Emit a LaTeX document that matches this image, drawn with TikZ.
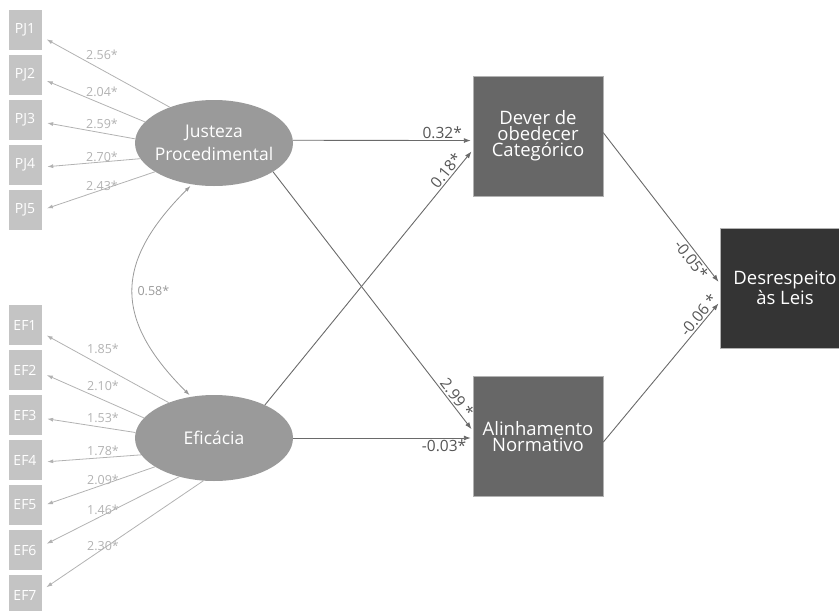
\documentclass[tikz,border=0pt]{standalone}
\usepackage{fontspec}
\setmainfont{Open Sans}
\usepackage{tikz}
\usetikzlibrary{arrows.meta, positioning, shapes.geometric}
\definecolor{indgray}{HTML}{C4C4C4}
\definecolor{latgray}{HTML}{9A9A9A}
\definecolor{midgray}{HTML}{676767}
\definecolor{darkbox}{HTML}{343434}
\definecolor{loadline}{HTML}{B2B2B2}
\definecolor{pathline}{HTML}{6A6A6A}
\tikzset{
    indicator/.style={
        rectangle,
        draw=white,
        fill=indgray,
        minimum width=34pt,
        minimum height=41pt,
        inner sep=0pt,
        text=white,
        font=\fontsize{14}{16}\selectfont
    },
    latent/.style={
        ellipse,
        fill=latgray,
        minimum width=158pt,
        minimum height=86pt,
        inner sep=-4pt,
        align=center,
        text=white,
        font=\fontsize{17.5}{23}\selectfont
    },
    construct/.style={
        rectangle,
        draw=gray!60,
        fill=midgray,
        minimum width=130pt,
        minimum height=120pt,
        inner sep=0pt,
        align=center,
        text=white,
        font=\fontsize{18.5}{16}\selectfont
    },
    outcome/.style={
        construct,
        fill=darkbox
    },
    load/.style={
        draw=loadline,
        line width=0.8pt,
        shorten >=5pt,
        -{Latex[length=6pt,width=4pt]}
    },
    path/.style={
        draw=pathline,
        line width=0.9pt,
        shorten >=2pt,
        -{Latex[length=7pt,width=5pt]}
    },
    corr/.style={
        draw=latgray,
        line width=0.8pt,
        shorten >=2pt,
        shorten <=2pt,
        {Latex[length=6pt,width=4pt]}-{Latex[length=6pt,width=4pt]}
    },
    loadlabel/.style={
        text=loadline,
        inner sep=0.5pt,
        font=\fontsize{12.5}{13}\selectfont
    },
    pathlabel/.style={
        text=pathline!80!black,
        inner sep=1.5pt,
        font=\fontsize{15.5}{16}\selectfont
    }
}

\begin{document}
\begin{tikzpicture}[x=1pt,y=1pt]
\useasboundingbox (0,0) rectangle (839,-611);

% latent variables and outcomes
\node[latent] (jp) at (214,-143) {Justeza\\Procedimental};
\node[latent] (ef) at (214,-438) {Eficácia};
\node[construct] (dever) at (538,-136) {Dever de\\obedecer\\Categórico};
\node[construct] (alin) at (538,-436.5) {Alinhamento\\Normativo};
\node[outcome] (desr) at (785,-288) {Desrespeito\\às Leis};

% PJ indicators
\foreach \i/\a/\b/\v/\ly in {1/141/-22/2.56/55, 2/163/-13/2.04/92, 3/177/-7/2.59/124, 4/192/-7/2.70/157, 5/206/0/2.43/186}{
    \node[indicator] (pj\i) at (25,{-30-45*(\i-1)}) {PJ\i};
    \draw[load] (jp.\a) -- (pj\i.\b);
    \node[loadlabel] (lpj\i) at (102,-\ly) {\v*};
}

% EF indicators
\foreach \i/\a/\b/\v/\ly in {1/142/-25/1.85/349, 2/164/-10/2.10/386, 3/176/-10/1.53/418, 4/193/-7/1.78/451, 5/206/-3/2.09/480, 6/228/13/1.46/510, 7/256/16/2.30/546}{
    \node[indicator] (ef\i) at (25,{-325-45*(\i-1)}) {EF\i};
    \draw[load] (ef.\a) -- (ef\i.\b);
    \node[loadlabel] (lef\i) at (103,-\ly) {\v*};
}

% correlation
\draw[corr] (jp.242) .. controls +(225:110) and +(135:110) .. (ef.119)
    node[pos=0.5, right, loadlabel, text=latgray, inner sep=4pt] {0.58*};

% structural paths
\draw[path] (jp.2) -- node[pathlabel, pos=0.83, above] {0.32*} (dever.184);
\draw[path] (ef.33) -- node[pathlabel, pos=0.9, above, sloped] {0.18*} (dever.192);
\draw[path] (jp.-26) -- node[pathlabel, pos=0.89, above, sloped] {2.99 *} (alin.175);
\draw[path] (ef.east) -- node[pathlabel, pos=0.84, below] {-0.03*} (ef.east -| alin.west);
\draw[path] (dever.3) -- node[pathlabel, pos=0.81, below, sloped] {-0.05*} (desr.176);
\draw[path] (alin.-5) -- node[pathlabel, pos=0.87, above, sloped] {-0.06 *} (desr.192);

\end{tikzpicture}
\end{document}
